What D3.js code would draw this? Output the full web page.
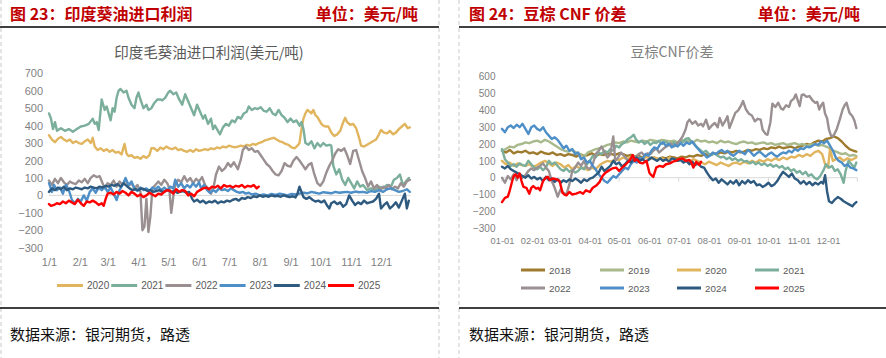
<!DOCTYPE html>
<html><head><meta charset="utf-8">
<script src="https://cdn.jsdelivr.net/npm/d3@7"></script>
<style>
body{margin:0;background:#fff;}
svg{display:block;font-family:"Noto Sans CJK SC","Microsoft YaHei",sans-serif;}
</style>
</head><body>
<svg id="c" width="886" height="358"></svg>
<script>
// ---------- text ----------
const leftHeader = "图 23：印度葵油进口利润";
const rightHeader = "图 24：豆棕 CNF 价差";
const unitText = "单位：美元/吨";
const leftTitle = "印度毛葵油进口利润(美元/吨)";
const rightTitle = "豆棕CNF价差";
const sourceText = "数据来源：银河期货，路透";

// ---------- ticks ----------
const leftYTicks = [700,600,500,400,300,200,100,0,-100,-200,-300];
const rightYTicks = [600,500,400,300,200,100,0,-100,-200,-300];
const leftXLabels = ["1/1","2/1","3/1","4/1","5/1","6/1","7/1","8/1","9/1","10/1","11/1","12/1"];
const rightXLabels = ["01-01","02-01","03-01","04-01","05-01","06-01","07-01","08-01","09-01","10-01","11-01","12-01"];

// ---------- series: [day of year, USD/t] ----------
const leftYears = ["2020","2021","2022","2023","2024","2025"];
const rightYears = ["2018","2019","2020","2021","2022","2023","2024","2025"];

const L2020 = [[0,345],[3,320],[6,305],[9,325],[12,335],[15,320],[18,310],[21,320],[24,300],[27,310],[30,300],[33,295],[36,310],[39,320],[42,300],[44,330],[46,280],[49,260],[52,270],[55,255],[58,265],[61,250],[64,260],[67,245],[70,250],[73,235],[76,295],[78,240],[80,225],[83,230],[86,215],[89,220],[92,210],[95,225],[98,215],[101,230],[103,270],[106,270],[109,255],[112,275],[115,265],[118,280],[121,270],[124,265],[127,275],[130,260],[133,265],[136,255],[139,250],[142,260],[145,250],[148,265],[151,255],[154,260],[157,265],[160,260],[163,270],[166,265],[169,275],[172,270],[175,280],[178,275],[181,285],[184,280],[187,275],[190,280],[193,285],[196,280],[199,290],[202,285],[205,295],[208,290],[211,300],[214,305],[217,315],[220,320],[223,325],[226,330],[229,320],[232,310],[235,305],[238,295],[241,290],[244,275],[247,270],[250,285],[252,300],[254,380],[256,440],[258,470],[260,490],[262,480],[264,470],[266,490],[268,460],[270,450],[272,430],[274,410],[276,400],[278,395],[281,395],[284,360],[287,340],[290,350],[293,370],[296,420],[298,445],[300,420],[303,405],[306,410],[309,385],[312,330],[314,285],[317,280],[320,290],[323,300],[326,310],[329,320],[332,350],[334,375],[337,360],[340,355],[343,370],[346,350],[349,360],[352,380],[355,395],[358,410],[361,385],[363,390]];
const L2021 = [[0,470],[2,440],[4,380],[6,420],[8,370],[12,385],[16,370],[20,380],[24,365],[28,380],[32,395],[36,400],[40,410],[44,440],[46,410],[48,420],[50,375],[53,550],[56,490],[58,510],[60,470],[62,430],[64,500],[66,480],[68,560],[70,600],[72,610],[75,590],[78,600],[80,560],[83,520],[86,500],[88,560],[90,590],[92,550],[95,500],[98,520],[100,490],[103,500],[106,530],[109,550],[112,550],[114,545],[117,560],[120,590],[122,600],[125,580],[128,590],[131,550],[134,520],[137,580],[140,540],[143,500],[146,460],[149,520],[152,480],[155,440],[157,460],[160,410],[163,440],[165,380],[167,400],[170,370],[172,350],[175,390],[178,410],[181,400],[184,430],[187,420],[190,450],[193,440],[196,470],[199,480],[201,510],[204,490],[207,500],[210,495],[213,505],[216,485],[219,480],[222,500],[225,470],[228,460],[231,490],[234,460],[237,445],[240,420],[243,440],[246,420],[249,430],[252,400],[254,420],[256,380],[258,300],[261,290],[264,310],[267,270],[270,300],[273,280],[276,300],[279,285],[282,290],[284,285],[286,170],[289,120],[292,150],[295,90],[298,60],[301,100],[304,70],[307,40],[310,80],[313,50],[316,60],[320,30],[324,40],[328,30],[332,50],[336,40],[340,60],[344,50],[347,90],[350,100],[353,120],[356,60],[359,80],[362,100]];
const L2022 = [[0,85],[3,60],[6,95],[9,70],[12,100],[15,75],[18,60],[21,80],[24,70],[27,65],[30,85],[33,75],[36,95],[39,70],[42,100],[45,115],[48,105],[51,110],[56,40],[59,70],[62,60],[65,85],[68,50],[71,80],[74,60],[77,90],[80,55],[83,70],[86,40],[89,60],[92,20],[94,-200],[96,-180],[98,-20],[100,-210],[102,-120],[104,40],[107,60],[110,80],[113,60],[116,90],[119,70],[121,40],[123,-100],[125,-10],[127,60],[130,90],[133,75],[136,110],[139,80],[142,100],[145,70],[148,95],[151,80],[154,105],[157,60],[160,40],[163,10],[166,60],[168,120],[171,165],[174,140],[177,155],[180,185],[183,165],[186,190],[190,150],[193,205],[195,260],[198,280],[201,260],[204,270],[207,250],[210,255],[213,230],[216,205],[219,180],[222,165],[225,140],[228,120],[231,115],[234,140],[237,185],[240,170],[243,165],[246,200],[249,220],[252,200],[255,175],[258,150],[261,175],[264,185],[267,120],[270,70],[273,55],[276,80],[279,130],[282,170],[285,200],[288,240],[291,265],[294,255],[297,270],[300,230],[303,180],[306,255],[309,260],[312,200],[315,140],[318,100],[321,50],[324,80],[327,40],[330,60],[333,30],[336,50],[339,40],[342,60],[345,35],[348,50],[351,40],[354,70],[357,50],[360,80],[363,90]];
const L2023 = [[0,70],[3,20],[5,60],[8,30],[11,45],[14,10],[17,60],[20,30],[23,-25],[26,-45],[29,-20],[32,-35],[35,0],[38,-30],[41,20],[44,40],[47,15],[50,45],[53,30],[56,50],[59,20],[62,45],[65,10],[68,-27],[71,30],[74,60],[77,100],[80,60],[83,80],[86,40],[89,25],[92,45],[95,30],[98,40],[101,25],[104,45],[107,35],[110,50],[113,30],[116,45],[119,30],[122,50],[125,40],[127,90],[130,50],[133,70],[136,40],[139,60],[142,45],[145,70],[148,50],[151,75],[153,40],[156,60],[159,30],[162,15],[165,30],[168,20],[171,40],[174,30],[177,35],[180,25],[183,40],[186,30],[189,20],[192,15],[195,20],[198,10],[201,15],[204,5],[208,10],[212,0],[216,5],[220,0],[224,8],[228,3],[232,10],[236,5],[240,0],[244,8],[248,5],[252,10],[256,15],[260,12],[264,20],[268,15],[272,10],[276,18],[280,15],[284,12],[288,20],[292,15],[296,18],[300,20],[304,15],[308,22],[312,18],[316,20],[320,15],[324,25],[328,20],[332,30],[336,20],[340,35],[344,40],[348,30],[352,20],[356,25],[360,35],[363,20]];
const L2024 = [[0,20],[3,40],[6,30],[9,45],[12,35],[15,50],[18,30],[21,40],[24,35],[27,45],[30,40],[33,35],[36,45],[39,40],[42,50],[45,45],[48,40],[51,50],[54,45],[57,55],[60,50],[63,60],[66,55],[69,65],[72,50],[75,70],[78,55],[81,40],[84,30],[87,35],[90,30],[93,40],[96,35],[99,25],[102,30],[105,20],[108,25],[111,30],[114,20],[117,25],[120,30],[123,20],[126,25],[129,15],[132,20],[135,25],[138,15],[141,20],[144,-20],[146,-35],[149,-25],[152,-40],[155,-30],[158,-45],[161,-35],[164,-40],[167,-30],[170,-45],[173,-35],[176,-40],[179,-30],[182,-35],[185,-25],[188,-20],[191,-30],[194,-15],[197,-20],[200,-10],[203,-15],[206,-5],[209,-10],[212,0],[215,-8],[218,-3],[221,-8],[224,0],[227,-5],[230,-2],[233,-8],[236,0],[239,-5],[242,-10],[245,-5],[248,-12],[250,10],[252,50],[254,20],[256,-10],[259,-20],[262,-10],[265,-25],[268,-35],[271,-30],[274,-40],[277,-30],[280,-60],[282,-75],[284,-45],[287,-35],[290,-50],[293,-40],[296,-65],[299,-50],[302,0],[305,-30],[308,-55],[311,-40],[314,-50],[317,-30],[320,-45],[323,-40],[326,-35],[329,-20],[332,10],[334,-75],[337,-55],[340,-40],[343,-75],[346,-60],[349,-40],[352,-70],[355,-30],[358,10],[360,-75],[362,-30]];
const L2025 = [[0,-50],[2,-60],[5,-55],[8,-45],[11,-50],[14,-35],[17,-45],[20,-30],[23,-40],[26,-50],[29,-25],[32,-45],[35,-60],[38,-35],[41,-40],[44,-30],[47,-40],[50,-55],[53,-45],[55,-60],[57,-20],[59,10],[62,15],[65,5],[68,20],[71,10],[74,25],[77,15],[80,0],[83,20],[86,10],[89,-5],[92,5],[95,-10],[98,0],[101,15],[104,5],[107,-5],[110,10],[113,5],[116,20],[119,30],[122,25],[125,10],[128,35],[131,20],[134,30],[137,25],[140,0],[143,10],[146,-5],[149,20],[152,30],[155,40],[158,45],[161,35],[164,50],[167,45],[170,55],[173,40],[176,60],[179,50],[182,55],[185,45],[188,55],[191,50],[194,60],[197,45],[200,55],[203,50],[206,60],[209,40],[211,50]];

const R2018 = [[0,160],[4,150],[8,165],[12,145],[16,155],[20,150],[24,160],[28,145],[32,150],[36,140],[40,155],[44,145],[48,140],[52,150],[56,135],[60,140],[64,130],[68,140],[72,135],[76,125],[80,140],[84,130],[88,135],[92,145],[96,130],[100,140],[104,135],[108,145],[112,140],[116,135],[120,145],[124,140],[128,130],[132,135],[136,125],[140,130],[144,120],[148,125],[152,115],[156,120],[160,110],[164,120],[168,115],[172,125],[176,120],[180,115],[184,125],[188,120],[192,130],[196,125],[200,135],[204,130],[208,140],[212,135],[216,145],[220,140],[224,150],[228,145],[232,155],[236,150],[240,160],[244,150],[248,155],[252,165],[256,160],[260,170],[264,165],[268,175],[272,170],[276,180],[280,175],[284,185],[288,175],[292,180],[296,185],[300,175],[304,185],[308,190],[312,200],[316,195],[320,210],[324,220],[328,215],[332,230],[336,235],[340,245],[344,235],[348,215],[352,190],[356,170],[360,160],[363,155]];
const R2019 = [[0,160],[4,170],[8,185],[12,180],[16,195],[20,200],[24,210],[28,205],[32,215],[36,220],[40,210],[44,225],[48,215],[52,200],[56,185],[60,170],[64,160],[68,155],[72,165],[76,150],[80,140],[84,125],[88,150],[92,160],[96,170],[100,175],[104,185],[108,195],[112,200],[116,210],[120,205],[124,215],[128,210],[132,220],[136,215],[140,210],[144,220],[148,215],[152,225],[156,220],[160,215],[164,225],[168,220],[172,215],[176,220],[180,210],[184,225],[188,215],[192,220],[196,210],[200,225],[204,215],[208,220],[212,210],[216,215],[220,205],[224,220],[228,210],[232,215],[236,205],[240,200],[244,210],[248,215],[252,205],[256,210],[260,200],[264,205],[268,210],[272,200],[276,205],[280,195],[284,200],[288,205],[292,195],[296,200],[300,205],[304,195],[308,200],[312,190],[316,195],[320,200],[324,190],[328,195],[332,185],[336,175],[340,160],[344,150],[348,140],[352,145],[356,130],[360,135],[363,130]];
const R2020 = [[0,100],[4,80],[8,90],[12,70],[16,85],[20,75],[24,70],[28,80],[32,65],[36,75],[40,90],[44,100],[48,85],[52,70],[56,90],[60,80],[64,60],[68,75],[72,50],[76,70],[80,55],[84,60],[88,45],[92,60],[96,50],[100,75],[104,90],[108,100],[112,95],[116,110],[120,105],[124,120],[128,110],[132,125],[136,115],[140,120],[144,110],[148,125],[152,115],[156,120],[160,110],[164,115],[168,105],[172,120],[176,110],[180,100],[184,115],[188,105],[192,95],[196,110],[200,100],[204,90],[208,80],[212,95],[216,85],[220,75],[224,90],[228,80],[232,70],[236,85],[240,90],[244,80],[248,95],[252,85],[256,100],[260,90],[264,105],[268,95],[272,110],[276,100],[280,115],[284,105],[288,120],[292,110],[296,125],[300,120],[304,135],[308,125],[312,140],[316,130],[320,150],[324,160],[328,140],[331,80],[334,60],[336,170],[339,100],[342,110],[346,120],[350,100],[354,115],[358,105],[363,120]];
const R2021 = [[0,170],[3,110],[6,90],[9,70],[12,80],[15,65],[18,85],[21,75],[24,70],[27,100],[30,80],[33,60],[36,50],[39,65],[42,45],[45,60],[48,100],[51,80],[54,90],[57,70],[60,50],[63,40],[66,55],[69,35],[72,45],[75,30],[78,40],[81,60],[84,50],[87,80],[90,100],[93,130],[96,120],[99,150],[102,140],[105,160],[108,150],[111,170],[114,160],[117,190],[120,180],[123,200],[126,210],[129,230],[132,240],[135,255],[137,230],[140,210],[143,220],[146,200],[149,215],[152,195],[155,210],[158,205],[161,220],[164,200],[167,215],[170,205],[173,195],[176,210],[179,200],[182,220],[185,210],[188,230],[191,235],[194,215],[197,200],[200,180],[203,165],[206,150],[209,160],[212,140],[215,135],[218,145],[221,130],[224,120],[227,125],[230,110],[233,120],[236,105],[239,115],[242,100],[245,110],[248,95],[251,100],[254,85],[257,95],[260,80],[263,90],[266,75],[269,85],[272,70],[275,80],[278,65],[281,75],[284,60],[287,70],[290,50],[293,60],[296,40],[299,50],[302,30],[305,40],[308,20],[311,35],[314,10],[317,20],[320,0],[323,-10],[326,10],[329,40],[332,80],[335,60],[338,70],[341,40],[344,50],[347,20],[350,-30],[352,40],[355,100],[358,80],[361,60],[363,90]];
const R2022 = [[0,0],[3,-30],[6,10],[9,-10],[12,20],[15,-15],[18,25],[21,0],[24,15],[27,40],[30,55],[33,45],[36,60],[39,70],[42,85],[45,60],[48,40],[51,-20],[54,-60],[57,-113],[60,-70],[63,-90],[66,-100],[69,-40],[72,40],[75,60],[78,90],[81,70],[84,100],[87,60],[90,50],[93,80],[96,140],[99,160],[102,185],[105,150],[108,120],[111,140],[114,245],[116,100],[119,120],[122,150],[125,130],[128,110],[131,100],[134,120],[137,125],[140,140],[143,150],[146,130],[149,145],[152,140],[155,160],[158,175],[161,150],[164,165],[167,180],[170,190],[173,205],[176,185],[179,200],[182,220],[185,245],[188,285],[190,330],[192,345],[195,320],[198,335],[201,310],[204,320],[206,305],[209,345],[212,290],[215,310],[218,325],[221,300],[223,355],[226,310],[229,340],[231,365],[233,295],[236,340],[239,385],[242,400],[245,430],[247,455],[250,405],[253,380],[256,370],[259,335],[262,350],[265,345],[267,285],[270,260],[272,255],[275,330],[277,440],[280,420],[283,445],[286,410],[288,405],[291,430],[294,420],[296,455],[299,470],[301,495],[303,460],[305,425],[307,490],[309,495],[312,480],[315,485],[318,460],[321,445],[323,450],[325,405],[327,430],[329,445],[331,380],[333,355],[335,285],[337,250],[339,245],[341,265],[343,290],[346,345],[349,405],[351,430],[353,445],[356,385],[359,365],[361,340],[363,295]];
const R2023 = [[0,290],[3,270],[6,300],[9,310],[12,295],[15,315],[18,300],[21,320],[24,290],[27,260],[30,300],[33,310],[36,290],[39,280],[42,300],[45,270],[48,250],[51,230],[54,240],[57,225],[60,200],[63,175],[66,190],[69,160],[72,170],[75,140],[78,150],[81,110],[84,120],[87,90],[90,100],[93,70],[96,50],[99,20],[102,0],[105,-20],[108,-30],[111,-10],[114,10],[117,0],[120,20],[123,40],[126,60],[129,50],[132,80],[135,100],[138,90],[141,120],[144,110],[147,140],[150,130],[153,160],[156,180],[159,170],[162,200],[165,210],[168,190],[171,200],[174,180],[177,195],[180,185],[183,205],[186,190],[189,210],[192,200],[195,215],[198,190],[201,170],[204,150],[207,140],[210,120],[213,130],[216,150],[219,140],[222,155],[225,165],[228,150],[231,160],[234,140],[237,130],[240,145],[243,160],[246,150],[249,140],[252,165],[255,150],[258,130],[261,145],[264,155],[267,140],[270,125],[273,140],[276,150],[279,135],[282,125],[285,140],[288,150],[291,145],[294,160],[297,150],[300,170],[303,160],[306,175],[309,170],[312,185],[315,180],[318,190],[321,200],[324,195],[327,215],[330,205],[333,220],[336,190],[339,160],[342,120],[345,100],[348,90],[351,70],[354,80],[357,60],[360,55],[363,45]];
const R2024 = [[0,65],[3,55],[6,70],[9,50],[12,40],[15,30],[18,20],[21,10],[24,0],[27,15],[30,-5],[33,5],[36,-10],[39,0],[42,-20],[45,5],[48,-15],[51,-5],[54,-25],[57,-10],[60,-30],[63,-15],[66,-25],[69,-10],[72,-20],[75,-5],[78,-15],[81,-30],[84,-10],[87,-20],[90,-5],[93,0],[96,15],[99,30],[102,65],[105,40],[108,55],[111,70],[114,100],[117,80],[120,90],[123,65],[126,80],[129,100],[132,90],[135,110],[138,120],[141,100],[144,110],[147,95],[150,105],[153,120],[156,110],[159,100],[162,115],[165,100],[168,110],[171,95],[174,115],[177,110],[180,100],[183,105],[186,90],[189,100],[192,80],[195,95],[198,75],[201,85],[204,65],[207,60],[210,30],[213,5],[216,-15],[219,-5],[222,-30],[225,-10],[228,-25],[231,-40],[234,-20],[237,-35],[240,-15],[243,-45],[246,-20],[249,-35],[252,-15],[255,-30],[258,-20],[261,-45],[264,-40],[267,-55],[270,-45],[273,-30],[276,-50],[279,-40],[282,-20],[285,10],[288,35],[291,20],[294,5],[297,25],[300,-5],[303,-15],[306,-35],[309,-20],[312,-40],[315,-25],[318,-45],[321,-30],[324,-40],[327,-25],[329,-35],[331,15],[333,-80],[335,-140],[338,-150],[341,-130],[344,-115],[347,-125],[350,-140],[353,-150],[356,-160],[359,-170],[361,-155],[363,-145]];
const R2025 = [[0,-145],[3,-120],[6,-113],[8,-75],[10,-30],[12,10],[14,20],[16,0],[18,25],[20,-20],[22,-55],[25,-60],[28,-95],[30,-60],[32,-50],[35,-65],[37,-60],[39,-75],[42,-20],[45,0],[47,5],[49,-15],[52,-5],[56,-10],[59,-20],[62,-90],[64,-100],[66,-105],[69,-85],[72,-100],[76,-95],[80,-85],[83,-95],[86,-75],[90,-85],[93,-60],[97,-45],[100,-25],[103,10],[106,30],[110,45],[113,55],[117,60],[120,40],[124,65],[127,80],[131,105],[134,135],[136,100],[138,110],[141,90],[144,85],[148,100],[151,30],[153,15],[155,5],[158,60],[161,70],[165,65],[168,80],[172,85],[175,95],[178,100],[181,110],[185,115],[188,100],[192,105],[194,90],[196,60],[199,95],[202,75],[204,95]];

const leftSeries = [L2020, L2021, L2022, L2023, L2024, L2025];
const rightSeries = [R2018, R2019, R2020, R2021, R2022, R2023, R2024, R2025];

// ---------- styles ----------
const yearColor = {
  "2018":"#9E7B2E","2019":"#A8B98C","2020":"#E1B55E","2021":"#7BAF9C",
  "2022":"#9A8F91","2023":"#4F8FC7","2024":"#2E5A80","2025":"#FF0000"
};
const numFont = "'Liberation Sans',Arial,sans-serif";

const svg = d3.select("#c");
const base = new Date(2023, 0, 1);
const toDate = d => d3.timeDay.offset(base, d);
const yearEnd = new Date(2023, 11, 31);
const monthTicks = d3.timeMonth.range(base, new Date(2023, 11, 2));

// frame: dashed separators
[1, 439, 459].forEach(x => {
  svg.append("line").attr("x1", x).attr("x2", x).attr("y1", 0).attr("y2", 358)
    .attr("stroke", "#c9c9c9").attr("stroke-dasharray", "4,3").attr("stroke-width", 1);
});
// header / footer rules
[[0,439],[459,886]].forEach(([a,b]) => {
  svg.append("line").attr("x1", a).attr("x2", b).attr("y1", 27).attr("y2", 27).attr("stroke", "#000").attr("stroke-width", 1.5);
  svg.append("line").attr("x1", a).attr("x2", b).attr("y1", 308).attr("y2", 308).attr("stroke", "#000").attr("stroke-width", 1.5);
});

function header(x, title, unitRight) {
  svg.append("text").attr("x", x).attr("y", 20).attr("fill", "#C00000")
    .attr("font-size", 16).attr("font-weight", "bold").text(title);
  svg.append("text").attr("x", unitRight).attr("y", 20).attr("fill", "#C00000")
    .attr("font-size", 16).attr("font-weight", "bold").attr("text-anchor", "end").text(unitText);
  svg.append("text").attr("x", x).attr("y", 340).attr("fill", "#111")
    .attr("font-size", 15).text(sourceText);
}
header(10, leftHeader, 418);
header(469, rightHeader, 860);

function chart(cfg) {
  const x = d3.scaleTime().domain([base, yearEnd]).range(cfg.xr);
  const y = d3.scaleLinear().domain(cfg.yd).range(cfg.yr);
  const g = svg.append("g");
  g.append("text").attr("x", cfg.titleX).attr("y", 51).attr("text-anchor", "middle")
    .attr("dominant-baseline", "central").attr("font-size", cfg.titleSize).attr("fill", cfg.titleColor).text(cfg.title);

  const yAxis = d3.axisLeft(y).tickValues(cfg.yTicks).tickSize(0).tickPadding(0);
  const ya = g.append("g").attr("transform", `translate(${cfg.yLabelX},0)`).call(yAxis);
  ya.select(".domain").remove();
  ya.selectAll("text").attr("font-size", cfg.axisSize).attr("fill", "#7f7f7f").attr("font-family", numFont);

  // zero line
  g.append("line").attr("x1", cfg.xr[0]).attr("x2", cfg.xr[1]).attr("y1", y(0)).attr("y2", y(0))
    .attr("stroke", "#d9d9d9").attr("stroke-width", 1);
  if (cfg.ticks) {
    g.selectAll(".tk").data(monthTicks.concat([yearEnd])).enter().append("line")
      .attr("x1", d => x(d)).attr("x2", d => x(d)).attr("y1", y(0)).attr("y2", y(0) + 4)
      .attr("stroke", "#d9d9d9");
  }
  const xAxis = d3.axisBottom(x).tickValues(monthTicks).tickSize(0).tickPadding(0)
    .tickFormat((d, i) => cfg.xLabels[i]);
  const xa = g.append("g").attr("transform", `translate(0,${cfg.xLabelY})`).call(xAxis);
  xa.select(".domain").remove();
  xa.selectAll("text").attr("font-size", cfg.xAxisSize).attr("fill", "#7f7f7f").attr("dy", "0.35em")
    .attr("font-family", numFont);

  const line = d3.line().x(d => x(toDate(d[0]))).y(d => y(d[1]));
  cfg.series.forEach((s, i) => {
    g.append("path").datum(s).attr("d", line).attr("fill", "none")
      .attr("stroke", yearColor[cfg.years[i]]).attr("stroke-width", 2.4)
      .attr("stroke-linejoin", "round").attr("stroke-linecap", "round");
  });

  // legend
  cfg.years.forEach((yr, i) => {
    const p = cfg.legendPos(i);
    g.append("line").attr("x1", p[0]).attr("x2", p[0] + cfg.legLen).attr("y1", p[1]).attr("y2", p[1])
      .attr("stroke", yearColor[yr]).attr("stroke-width", 3);
    g.append("text").attr("x", p[0] + cfg.legLen + 4).attr("y", p[1]).attr("dominant-baseline", "central")
      .attr("font-size", cfg.legSize).attr("fill", "#595959").attr("font-family", numFont).text(yr);
  });
}

chart({
  title: leftTitle, titleX: 209, titleSize: 14.5, titleColor: "#595959",
  xr: [49, 410.8], yd: [-300, 700], yr: [247.7, 73.3],
  yTicks: leftYTicks, yLabelX: 43, xLabels: leftXLabels, xLabelY: 262, ticks: false,
  axisSize: 11, xAxisSize: 11, legSize: 10,
  series: leftSeries, years: leftYears, legLen: 26,
  legendPos: i => [57 + i * 54.2, 285.5]
});
chart({
  title: rightTitle, titleX: 672, titleSize: 14, titleColor: "#808080",
  xr: [502, 857.3], yd: [-300, 600], yr: [228.2, 76.7],
  yTicks: rightYTicks, yLabelX: 495.5, xLabels: rightXLabels, xLabelY: 241, ticks: true,
  axisSize: 10, xAxisSize: 9.3, legSize: 9.8,
  series: rightSeries, years: rightYears, legLen: 24,
  legendPos: i => [[521, 600, 677, 755][i % 4], i < 4 ? 270 : 288]
});
</script>
</body></html>
